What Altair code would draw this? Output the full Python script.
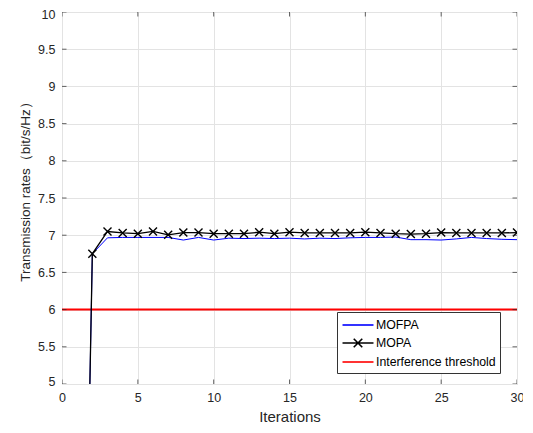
import altair as alt
import pandas as pd

iterations = list(range(1, 31))
mofpa = [-4.0, 6.75, 6.965, 6.97, 6.97, 6.97, 6.97, 6.935, 6.97, 6.935,
         6.96, 6.955, 6.96, 6.955, 6.96, 6.95, 6.96, 6.955, 6.965, 6.97,
         6.97, 6.975, 6.94, 6.94, 6.935, 6.95, 6.97, 6.955, 6.945, 6.94]
mopa = [-4.0, 6.75, 7.05, 7.03, 7.02, 7.05, 7.005, 7.035, 7.035, 7.02,
        7.02, 7.02, 7.04, 7.02, 7.04, 7.03, 7.03, 7.03, 7.03, 7.04,
        7.03, 7.02, 7.015, 7.02, 7.035, 7.03, 7.03, 7.03, 7.03, 7.035]
threshold = [6.0]
series_names = ["MOFPA", "MOPA", "Interference threshold"]
series_colors = ["#0000ff", "#000000", "#ff0000"]
x_ticks = [0, 5, 10, 15, 20, 25, 30]
y_ticks = [5, 5.5, 6, 6.5, 7, 7.5, 8, 8.5, 9, 9.5, 10]

W, H = 455, 372
FONT = "Liberation Sans"
AX = "#262626"

df_blue = pd.DataFrame({"it": iterations, "v": mofpa})
df_black = pd.DataFrame({"it": iterations, "v": mopa})
df_thr = pd.DataFrame({"v": threshold})
df_leg = pd.DataFrame({"series": series_names})
df_xt = pd.DataFrame({"t": x_ticks})
df_yt = pd.DataFrame({"t": y_ticks})

xs = alt.Scale(domain=[0, 30], nice=False, zero=False)
ys = alt.Scale(domain=[5, 10], nice=False, zero=False)

xax = alt.Axis(values=x_ticks, title="Iterations", grid=True, ticks=False, domain=False,
               labelFontSize=12.5, titleFontSize=15, labelPadding=7, titlePadding=6,
               labelFont=FONT, titleFont=FONT, labelColor=AX, titleColor=AX,
               titleFontWeight="normal", gridColor="#e3e3e3", labelFlush=False)
yax = alt.Axis(values=y_ticks, title="Transmission rates（bit/s/Hz）", grid=True, ticks=False,
               domain=False, format="~g", labelFontSize=12.5, titleFontSize=13.5, labelPadding=7,
               titlePadding=5, titleY=176, labelFont=FONT, titleFont=FONT, labelColor=AX,
               titleColor=AX, titleFontWeight="normal", gridColor="#e3e3e3",
               labelFlush=True, labelFlushOffset=4)

base_x = alt.X("it:Q", scale=xs, axis=xax)
base_y = alt.Y("v:Q", scale=ys, axis=yax)

thr = alt.Chart(df_thr).mark_rule(color="#ff0000", strokeWidth=2, clip=True).encode(
    y=alt.Y("v:Q", scale=ys, axis=yax))

blue = alt.Chart(df_blue).mark_line(color="#0000ff", strokeWidth=1, clip=True).encode(
    x=base_x, y=base_y)
black = alt.Chart(df_black).mark_line(color="#000000", strokeWidth=1.3, clip=True).encode(
    x=base_x, y=base_y)
xmark = alt.Chart(df_black).mark_point(
    shape="M-1,-1L1,1M-1,1L1,-1", size=64, filled=False, color="#000000",
    strokeWidth=1.4, opacity=1, clip=True).encode(x=base_x, y=base_y)

leg_paths = [
    "M-2,0H2",
    "M-2,0H2M-0.55,-0.55L0.55,0.55M-0.55,0.55L0.55,-0.55",
    "M-2,0H2",
]
legend = alt.Chart(df_leg).mark_point(filled=False, opacity=1, strokeWidth=1.4).encode(
    color=alt.Color("series:N", scale=alt.Scale(domain=series_names, range=series_colors),
                    title=None,
                    legend=alt.Legend(orient="none", legendX=275, legendY=300, title=None,
                                      labelFont=FONT, labelFontSize=12.3, labelColor="#000000",
                                      symbolSize=240, symbolStrokeWidth=1.6, symbolOffset=8,
                                      labelOffset=9, padding=4, rowPadding=2,
                                      strokeColor="#333333", fillColor="#ffffff",
                                      cornerRadius=0)),
    shape=alt.Shape("series:N", scale=alt.Scale(domain=series_names, range=leg_paths),
                    title=None),
).transform_filter("false")

xt_bottom = alt.Chart(df_xt).mark_tick(orient="vertical", size=9, thickness=1, color=AX,
                                       clip=True).encode(
    x=alt.X("t:Q", scale=xs, axis=xax), y=alt.value(H))
xt_top = alt.Chart(df_xt).mark_tick(orient="vertical", size=9, thickness=1, color=AX,
                                    clip=True).encode(
    x=alt.X("t:Q", scale=xs, axis=xax), y=alt.value(0))
yt_left = alt.Chart(df_yt).mark_tick(orient="horizontal", size=9, thickness=1, color=AX,
                                     clip=True).encode(
    y=alt.Y("t:Q", scale=ys, axis=yax), x=alt.value(0))
yt_right = alt.Chart(df_yt).mark_tick(orient="horizontal", size=9, thickness=1, color=AX,
                                      clip=True).encode(
    y=alt.Y("t:Q", scale=ys, axis=yax), x=alt.value(W))

chart = alt.layer(thr, blue, black, xmark, xt_bottom, xt_top, yt_left, yt_right, legend).properties(
    width=W, height=H,
    autosize=alt.AutoSizeParams(type="none"),
    padding={"left": 54, "top": 4, "right": 6, "bottom": 43},
).configure_view(stroke=AX, strokeWidth=1).configure(background="#ffffff")

chart.save("out.html", embed_options={"renderer": "svg", "actions": False})
